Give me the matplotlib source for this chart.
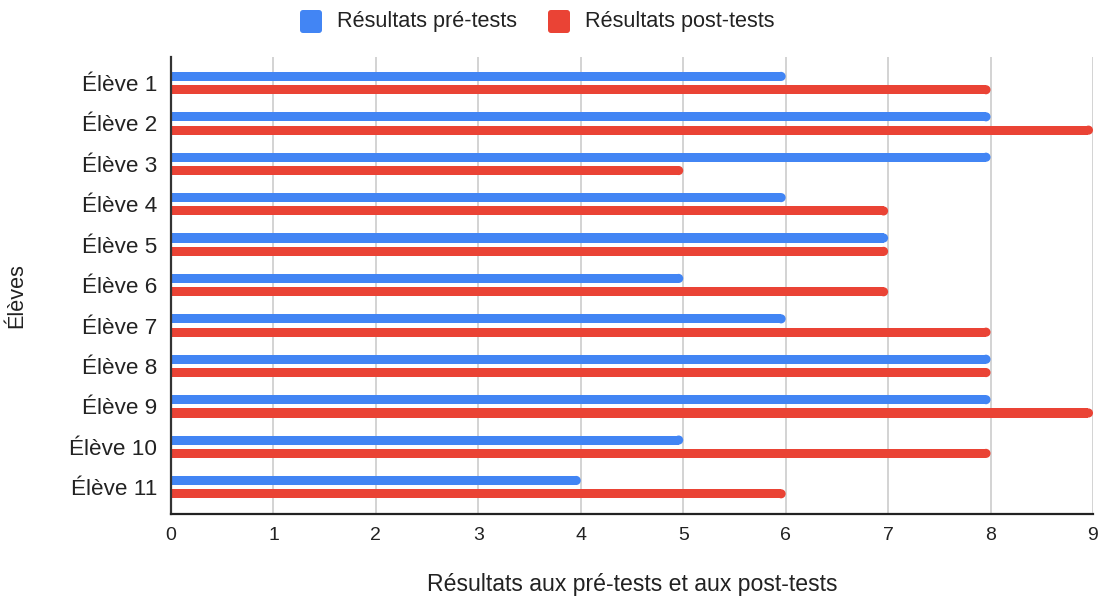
import matplotlib
matplotlib.use("Agg")
import matplotlib.pyplot as plt
from matplotlib.patches import Ellipse, FancyBboxPatch

students = ["Élève 1", "Élève 2", "Élève 3", "Élève 4", "Élève 5", "Élève 6",
            "Élève 7", "Élève 8", "Élève 9", "Élève 10", "Élève 11"]
pre_tests = [6, 8, 8, 6, 7, 5, 6, 8, 8, 5, 4]
post_tests = [8, 9, 5, 7, 7, 7, 8, 8, 9, 8, 6]
x_ticks = [0, 1, 2, 3, 4, 5, 6, 7, 8, 9]

series_labels = ["Résultats pré-tests", "Résultats post-tests"]
colors = ["#4285F4", "#EA4335"]

plt.rcParams["font.family"] = ["Liberation Sans", "DejaVu Sans"]
FS = 15.6
TXT = "#222222"

W, H = 1108, 601
fig = plt.figure(figsize=(W / 100, H / 100), dpi=100)
ax = fig.add_axes([171 / W, 1 - 514 / H, (1093 - 171) / W, (514 - 57) / H])

n = len(students)
ax.set_xlim(0, 9)
ax.set_ylim(n - 1 + 0.665, -0.645)

bar_h = 0.225
offset = 0.165

# half bar height expressed in x data units, so the rounded caps are circular
ax_w_px = 1093 - 171
ax_h_px = 514 - 57
px_per_x = ax_w_px / 9
px_per_y = ax_h_px / (n - 1 + 0.665 + 0.645)
rx = (bar_h * px_per_y / 2) / px_per_x

for vals, off, col in [(pre_tests, -offset, colors[0]), (post_tests, offset, colors[1])]:
    ys = [i + off for i in range(n)]
    ax.barh(ys, [v - rx for v in vals], height=bar_h, color=col, zorder=3,
            linewidth=0)
    for y, v in zip(ys, vals):
        ax.add_patch(Ellipse((v - rx, y), 2 * rx, bar_h, facecolor=col,
                             edgecolor="none", zorder=3))

ax.set_xticks(x_ticks)
ax.set_xticklabels([str(t) for t in x_ticks], fontsize=14, color=TXT)
ax.set_yticks(range(n))
ax.set_yticklabels(students, fontsize=16.2, color=TXT)
ax.tick_params(axis="both", length=0)
ax.tick_params(axis="x", pad=9)
ax.tick_params(axis="y", pad=10)

ax.grid(axis="x", color="#cccccc", linewidth=1.2, zorder=0)
ax.set_axisbelow(True)
for s in ["top", "right"]:
    ax.spines[s].set_visible(False)
ax.spines["left"].set_color("#333333")
ax.spines["left"].set_linewidth(1.6)
ax.spines["bottom"].set_color("#222222")
ax.spines["bottom"].set_linewidth(1.6)
ax.spines["left"].set_zorder(4)
ax.spines["bottom"].set_zorder(4)

fig.text(632 / W, 1 - 584 / H, "Résultats aux pré-tests et aux post-tests",
         ha="center", va="center", fontsize=16.6, color=TXT)
fig.text(17 / W, 1 - 296 / H, "Élèves", rotation=90, ha="center", va="center",
         fontsize=FS, color=TXT)

# legend: rounded colour squares followed by series names
leg_y = H - 21.5
for x0, col, lab in [(300, colors[0], series_labels[0]), (548, colors[1], series_labels[1])]:
    sq = FancyBboxPatch((x0 + 2, leg_y - 9.5), 18, 19,
                        boxstyle="round,pad=2,rounding_size=3",
                        facecolor=col, edgecolor="none", transform=None)
    fig.patches.append(sq)
    fig.text((x0 + 37) / W, leg_y / H, lab, ha="left", va="center",
             fontsize=FS, color=TXT)

fig.savefig("out.png", dpi=100)
